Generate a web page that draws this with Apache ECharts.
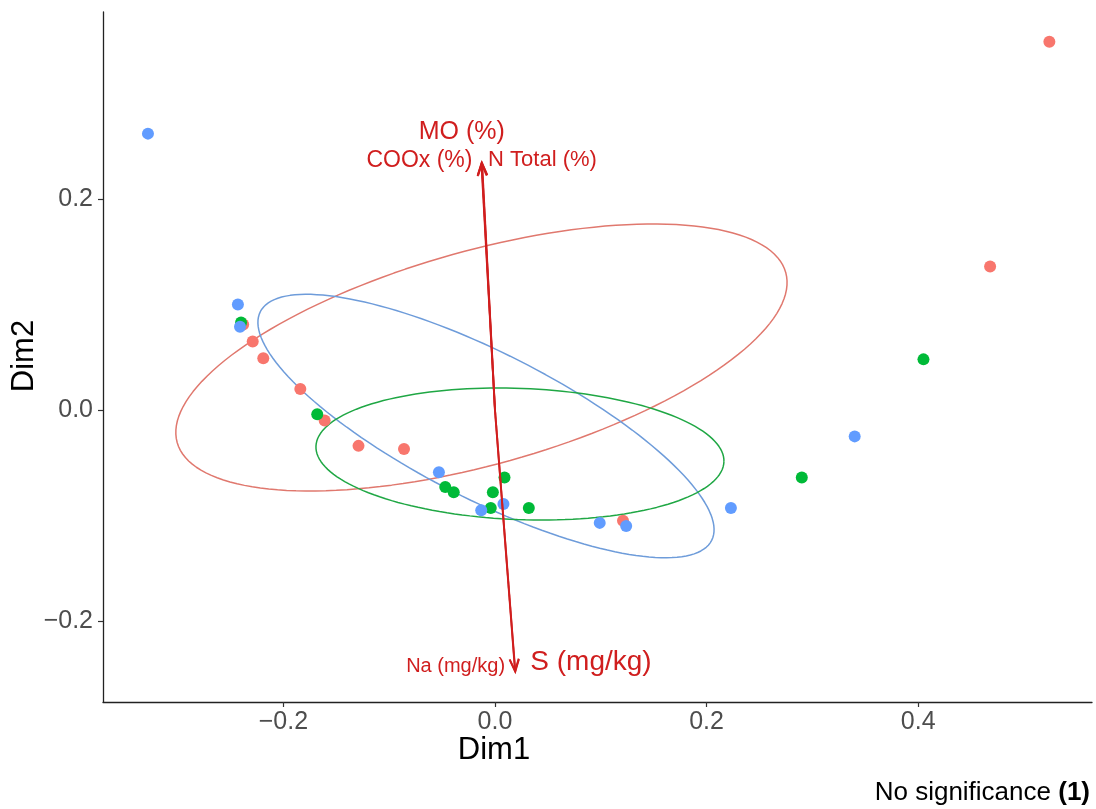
<!DOCTYPE html>
<html>
<head>
<meta charset="utf-8">
<script src="https://cdn.jsdelivr.net/npm/echarts@6.0.0/dist/echarts.min.js"></script>
<style>
  html, body { margin: 0; padding: 0; background: #fff; }
  #main { width: 1096px; height: 809px; }
</style>
</head>
<body>
<div id="main"></div>
<script>
// individuals, [Dim1, Dim2]
var groupRed = [[0.524, 0.349], [-0.238, 0.081], [-0.229, 0.065], [-0.219, 0.049], [-0.184, 0.020],
                [-0.161, -0.010], [-0.129, -0.034], [-0.086, -0.037], [0.121, -0.105], [0.468, 0.136]];
var groupGreen = [[-0.240, 0.083], [-0.168, -0.004], [-0.047, -0.073], [-0.039, -0.078], [-0.002, -0.078],
                  [0.009, -0.064], [-0.004, -0.093], [0.032, -0.093], [0.290, -0.064], [0.405, 0.048]];
var groupBlue = [[-0.328, 0.262], [-0.243, 0.100], [-0.241, 0.079], [-0.053, -0.059], [-0.013, -0.095],
                 [0.008, -0.089], [0.099, -0.107], [0.124, -0.110], [0.223, -0.093], [0.340, -0.025]];

// ellipses: centre, half major axis vector, half minor axis vector (data units)
var ellRed = [[-0.0128, 0.0498], [0.2876, 0.0806], [0.0272, -0.0976]];
var ellBlue = [[-0.0085, -0.0152], [0.2133, -0.1084], [-0.0313, -0.0620]];
var ellGreen = [[0.0236, -0.0417], [0.1928, -0.0074], [-0.0024, -0.0621]];

// variable arrows
var varNames = ['MO (%)', 'COOx (%)', 'N Total (%)', 'Na (mg/kg)', 'S (mg/kg)'];
var varX = [-0.0125, -0.0128, -0.0122, 0.0190, 0.0192];
var varY = [0.2345, 0.2335, 0.2340, -0.2475, -0.2480];

var xTicks = [-0.2, 0, 0.2, 0.4];
var yTicks = [-0.2, 0, 0.2];

// label placement for arrows (pixels from arrow tip)
var labelStyle = [
  { dx: -20, dy: -31, align: 'center', size: 25 },
  { dx: -9, dy: -3, align: 'right', size: 23 },
  { dx: 6, dy: -3, align: 'left', size: 22 },
  { dx: -10, dy: -5, align: 'right', size: 20 },
  { dx: 15, dy: -9, align: 'left', size: 28 }
];

var FONT = '"Liberation Sans", Arial, Helvetica, sans-serif';
var ARROW = '#D01E1E';

function ellipseLine(e) {
  var pts = [];
  for (var i = 0; i <= 160; i++) {
    var t = i / 160 * Math.PI * 2;
    pts.push([e[0][0] + e[1][0] * Math.cos(t) + e[2][0] * Math.sin(t),
              e[0][1] + e[1][1] * Math.cos(t) + e[2][1] * Math.sin(t)]);
  }
  return pts;
}

function fmt(v) {
  var s = Math.abs(v).toFixed(1);
  return v < 0 ? '\u2212' + s : s;
}

var myChart = echarts.init(document.getElementById('main'));

function ellSeries(e, color) {
  return {
    type: 'line', data: ellipseLine(e), showSymbol: false, silent: true,
    lineStyle: { color: color, width: 1.5 }, z: 1
  };
}

function ptSeries(d, color) {
  return {
    type: 'scatter', data: d, symbolSize: 12, silent: true,
    itemStyle: { color: color, opacity: 1 }, z: 2
  };
}

var option = {
  animation: false,
  backgroundColor: '#fff',
  grid: { left: 103, right: 4, top: 12, bottom: 107, containLabel: false },
  xAxis: {
    type: 'value', min: -0.3705, max: 0.5643,
    splitLine: { show: false },
    axisLine: { onZero: false, lineStyle: { color: '#222', width: 1.3 } },
    axisTick: { customValues: xTicks, length: 5, lineStyle: { color: '#333', width: 1.2 } },
    axisLabel: { customValues: xTicks, formatter: fmt, color: '#4D4D4D', fontSize: 25, fontFamily: FONT, margin: 8 }
  },
  yAxis: {
    type: 'value', min: -0.2768, max: 0.3773,
    splitLine: { show: false },
    axisLine: { onZero: false, lineStyle: { color: '#222', width: 1.3 } },
    axisTick: { customValues: yTicks, length: 5, lineStyle: { color: '#333', width: 1.2 } },
    axisLabel: { customValues: yTicks, formatter: fmt, color: '#4D4D4D', fontSize: 25, fontFamily: FONT, margin: 10 }
  },
  series: [
    ellSeries(ellRed, '#E0786E'),
    ellSeries(ellBlue, '#6E9CDA'),
    ellSeries(ellGreen, '#1FA744'),
    ptSeries(groupRed, '#F8766D'),
    ptSeries(groupGreen, '#00BA38'),
    ptSeries(groupBlue, '#619CFF'),
    {
      type: 'custom', z: 5, silent: true,
      data: varX.map(function (x, i) { return [x, varY[i], i]; }),
      encode: { x: 0, y: 1 },
      renderItem: function (params, api) {
        var i = api.value(2);
        var o = api.coord([0, 0]);
        var t = api.coord([api.value(0), api.value(1)]);
        var ang = Math.atan2(t[1] - o[1], t[0] - o[0]);
        var L = 13, s = 0.36;
        var p1 = [t[0] - L * Math.cos(ang - s), t[1] - L * Math.sin(ang - s)];
        var p2 = [t[0] - L * Math.cos(ang + s), t[1] - L * Math.sin(ang + s)];
        var ls = labelStyle[i];
        return {
          type: 'group',
          children: [
            { type: 'line', shape: { x1: o[0], y1: o[1], x2: t[0], y2: t[1] },
              style: { stroke: ARROW, lineWidth: 1.9 } },
            { type: 'polyline', shape: { points: [p1, t, p2] },
              style: { stroke: ARROW, lineWidth: 1.9, fill: null } },
            { type: 'text', x: t[0] + ls.dx, y: t[1] + ls.dy,
              style: { text: varNames[i], fill: ARROW, fontSize: ls.size, fontFamily: FONT,
                       align: ls.align, verticalAlign: 'middle' } }
          ]
        };
      }
    }
  ],
  graphic: [
    { type: 'text', x: 494, y: 750,
      style: { text: 'Dim1', fill: '#000', fontSize: 31, fontFamily: FONT, align: 'center', verticalAlign: 'middle' } },
    { type: 'text', x: 24, y: 356, rotation: Math.PI / 2,
      style: { text: 'Dim2', fill: '#000', fontSize: 31, fontFamily: FONT, align: 'center', verticalAlign: 'middle' } },
    { type: 'text', x: 1090, y: 793,
      style: {
        text: '{a|No significance }{b|(1)}', align: 'right', verticalAlign: 'middle',
        rich: {
          a: { fill: '#000', fontSize: 26, fontFamily: FONT },
          b: { fill: '#000', fontSize: 26, fontFamily: FONT, fontWeight: 'bold' }
        }
      } }
  ]
};

myChart.setOption(option);
window.onresize = function () { myChart.resize(); };
</script>
</body>
</html>
